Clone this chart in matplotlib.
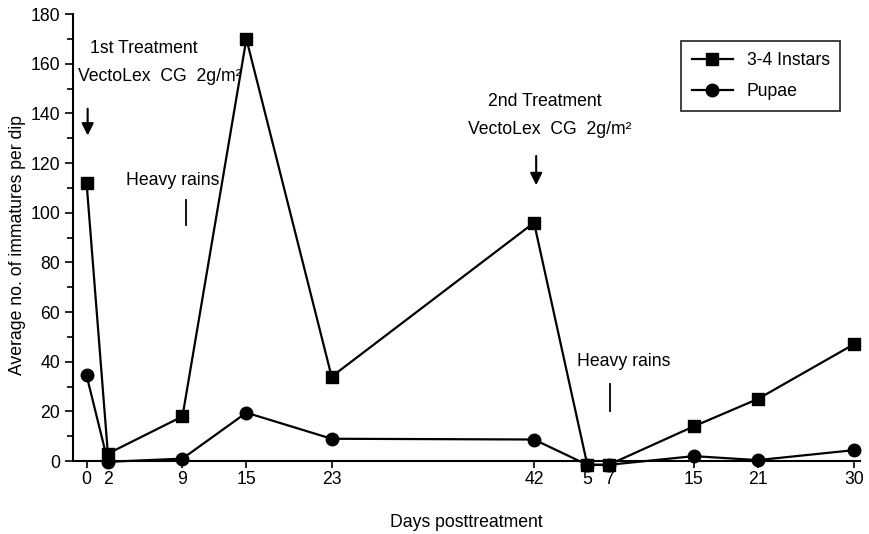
import matplotlib.pyplot as plt
from matplotlib.ticker import MultipleLocator

plt.rcParams['font.family'] = ['Liberation Sans', 'DejaVu Sans']

# Days after 1st treatment, then days after 2nd treatment (given on day 42)
days_first = [0, 2, 9, 15, 23, 42]
days_second = [5, 7, 15, 21, 30]
second_start = 42

# Average no. of immatures per dip
instars = [112, 3, 18, 170, 34, 96, -1.5, -1.5, 14, 25, 47]
pupae = [34.5, -0.3, 1, 19.5, 9, 8.7, -1.5, -1.5, 2, 0.4, 4.4]

x = days_first + [second_start + d for d in days_second]
tick_labels = [str(d) for d in days_first] + [str(d) for d in days_second]

fs = 12.7

fig = plt.figure(figsize=(8.69, 5.34), dpi=100)
ax = fig.add_axes([0.0837, 0.1086, 0.906, 0.865])

ax.plot(x, instars, color='black', lw=1.6, marker='s', ms=9, clip_on=False,
        label='3-4 Instars', zorder=3)
ax.plot(x, pupae, color='black', lw=1.6, marker='o', ms=9, clip_on=False,
        label='Pupae', zorder=3)

ax.set_xlim(-1.3, 72.6)
ax.set_ylim(-6, 180)
ax.spines['top'].set_visible(False)
ax.spines['right'].set_visible(False)
ax.spines['bottom'].set_position(('data', 0))
ax.spines['left'].set_bounds(0, 180)
ax.spines['left'].set_linewidth(1.5)
ax.spines['bottom'].set_linewidth(1.5)

ax.set_xticks(x)
ax.set_xticklabels(tick_labels, fontsize=fs)
ax.set_yticks(range(0, 181, 20))
ax.yaxis.set_minor_locator(MultipleLocator(10))
ax.tick_params(axis='y', labelsize=fs, length=6, width=1.2, direction='out', pad=3)
ax.tick_params(axis='y', which='minor', length=4, width=1.2)
ax.tick_params(axis='x', length=5, width=1.2, direction='out', pad=2)

ax.set_ylabel('Average no. of immatures per dip', fontsize=fs, labelpad=3)
ax.set_xlabel('Days posttreatment', fontsize=fs, labelpad=19)

# treatment annotations
ax.text(0.3, 166, '1st Treatment', fontsize=fs, va='center')
ax.text(-0.8, 155, 'VectoLex  CG  2g/m²', fontsize=fs, va='center')
ax.annotate('', xy=(0.1, 130), xytext=(0.1, 143),
            arrowprops=dict(arrowstyle='-|>', color='black', lw=1.5, mutation_scale=18))
ax.text(3.7, 113, 'Heavy rains', fontsize=fs, va='center')
ax.plot([9.3, 9.3], [95, 105], color='black', lw=1.3)

ax.text(37.7, 145, '2nd Treatment', fontsize=fs, va='center')
ax.text(35.8, 133.5, 'VectoLex  CG  2g/m²', fontsize=fs, va='center')
ax.annotate('', xy=(42.2, 110), xytext=(42.2, 124),
            arrowprops=dict(arrowstyle='-|>', color='black', lw=1.5, mutation_scale=18))
ax.text(46, 40, 'Heavy rains', fontsize=fs, va='center')
ax.plot([49.1, 49.1], [20, 31], color='black', lw=1.3)

leg = ax.legend(loc='upper right', bbox_to_anchor=(0.986, 0.96), fontsize=fs,
                frameon=True, fancybox=False, edgecolor='black', borderpad=0.6,
                labelspacing=0.8, handlelength=2.3)
leg.get_frame().set_linewidth(1.3)

plt.savefig('out.png', dpi=100)
